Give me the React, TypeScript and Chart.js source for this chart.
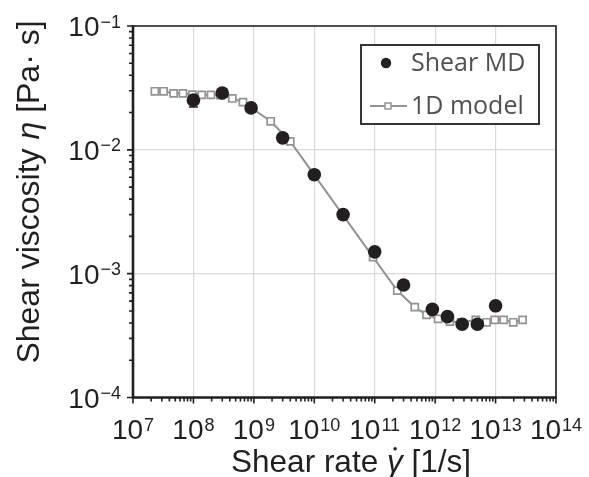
import React, { useEffect, useRef } from "react";
import { Chart, registerables } from "chart.js";

Chart.register(...registerables);

// ---- data ----
const mdRate = [1e8, 3e8, 9e8, 3e9, 1e10, 3e10, 1e11, 3e11, 9e11, 1.6e12, 2.8e12, 5e12, 1e13];
const mdVisc = [0.0252, 0.0288, 0.0218, 0.0125, 0.0063, 0.0030, 0.0015, 8.1e-4, 5.15e-4, 4.5e-4, 3.9e-4, 3.9e-4, 5.5e-4];
const mdErr = [0.003, 0, 0, 0, 0, 0, 0, 0, 0, 0, 0, 0, 0];

const modelRate = [2.3e7, 3.2e7, 4.7e7, 6.7e7, 9.6e7, 1.37e8, 1.95e8, 2.8e8, 4.4e8, 6.6e8, 1.9e9, 4e9, 9.4e10, 2.36e11, 4.6e11, 7.2e11, 1.12e12, 1.75e12, 2.7e12, 4.7e12, 7.1e12, 9.7e12, 1.36e13, 1.96e13, 2.8e13];
const modelVisc = [0.0297, 0.0297, 0.0286, 0.0286, 0.0279, 0.0278, 0.0278, 0.0277, 0.026, 0.0243, 0.017, 0.0117, 1.36e-3, 7.3e-4, 5.37e-4, 4.65e-4, 4.31e-4, 4.1e-4, 4.05e-4, 4.23e-4, 4.05e-4, 4.23e-4, 4.23e-4, 4.05e-4, 4.23e-4];

const xTickValues = [1e7, 1e8, 1e9, 1e10, 1e11, 1e12, 1e13, 1e14];
const xExponents = ["7", "8", "9", "10", "11", "12", "13", "14"];
const yTickValues = [1e-4, 1e-3, 1e-2, 1e-1];
const yExponents = ["\u22124", "\u22123", "\u22122", "\u22121"];

const seriesNames = ["Shear MD", "1D model"];
// middle part is the italic symbol; a dot is added above gamma
const xTitleParts = ["Shear rate ", "\u03B3", " [1/s]"];
const yTitleParts = ["Shear viscosity ", "\u03B7", " [Pa\u00B7 s]"];

// ---- style ----
const INK = "#231f20";
const MODEL = "#939393";
const SANS = '"Liberation Sans", Arial, sans-serif';
const BASE = 28;
const EXP = 18;

function drawPow(ctx: CanvasRenderingContext2D, exp: string, x: number, baseY: number, align: "center" | "right") {
  ctx.font = `${BASE}px ${SANS}`;
  const wb = ctx.measureText("10").width;
  ctx.font = `${EXP}px ${SANS}`;
  const we = ctx.measureText(exp).width;
  const total = wb + we + 1;
  const left = align === "center" ? x - total / 2 : x - total;
  ctx.textAlign = "left";
  ctx.textBaseline = "alphabetic";
  ctx.font = `${BASE}px ${SANS}`;
  ctx.fillText("10", left, baseY);
  ctx.font = `${EXP}px ${SANS}`;
  ctx.fillText(exp, left + wb + 1, baseY - 8.5);
}

function drawParts(ctx: CanvasRenderingContext2D, parts: string[], cx: number, baseY: number, size: number, dotted: boolean) {
  const fonts = parts.map((_, i) => (i === 1 ? `italic ${size}px ${SANS}` : `${size}px ${SANS}`));
  const widths = parts.map((p, i) => {
    ctx.font = fonts[i];
    return ctx.measureText(p).width;
  });
  const total = widths.reduce((a, b) => a + b, 0);
  let x = cx - total / 2;
  ctx.textAlign = "left";
  ctx.textBaseline = "alphabetic";
  parts.forEach((p, i) => {
    ctx.font = fonts[i];
    ctx.fillText(p, x, baseY);
    if (i === 1 && dotted) {
      ctx.beginPath();
      ctx.arc(x + widths[i] * 0.52, baseY - size * 0.74, size * 0.055, 0, Math.PI * 2);
      ctx.fill();
    }
    x += widths[i];
  });
}

const decorPlugin = {
  id: "decor",
  beforeDatasetsDraw(chart: any) {
    const ctx = chart.ctx as CanvasRenderingContext2D;
    const xs = chart.scales.x;
    const ys = chart.scales.y;
    ctx.save();
    ctx.strokeStyle = INK;
    ctx.lineWidth = 1.5;
    mdRate.forEach((r, i) => {
      const e = mdErr[i];
      if (!e) return;
      const px = xs.getPixelForValue(r);
      const top = ys.getPixelForValue(mdVisc[i] + e);
      const bot = ys.getPixelForValue(mdVisc[i] - e);
      ctx.beginPath();
      ctx.moveTo(px, top);
      ctx.lineTo(px, bot);
      ctx.moveTo(px - 4.5, top);
      ctx.lineTo(px + 4.5, top);
      ctx.moveTo(px - 4.5, bot);
      ctx.lineTo(px + 4.5, bot);
      ctx.stroke();
    });
    ctx.restore();
  },
  afterDraw(chart: any) {
    const ctx = chart.ctx as CanvasRenderingContext2D;
    const { left, right, top, bottom } = chart.chartArea;
    const xs = chart.scales.x;
    const ys = chart.scales.y;
    ctx.save();
    // frame
    ctx.strokeStyle = INK;
    ctx.lineWidth = 1.6;
    ctx.beginPath();
    ctx.moveTo(left, top);
    ctx.lineTo(right, top);
    ctx.lineTo(right, bottom);
    ctx.stroke();
    ctx.lineWidth = 2.6;
    ctx.beginPath();
    ctx.moveTo(left, top - 1);
    ctx.lineTo(left, bottom);
    ctx.lineTo(right + 0.8, bottom);
    ctx.stroke();

    // ticks
    ctx.lineWidth = 1.6;
    ctx.beginPath();
    for (let d = 0; d < xTickValues.length; d++) {
      const dec = xTickValues[d];
      const px = xs.getPixelForValue(dec);
      ctx.moveTo(px, bottom);
      ctx.lineTo(px, bottom + 6);
      if (d < xTickValues.length - 1) {
        for (let m = 2; m <= 9; m++) {
          const mx = xs.getPixelForValue(dec * m);
          ctx.moveTo(mx, bottom);
          ctx.lineTo(mx, bottom + 4);
        }
      }
    }
    for (let d = 0; d < yTickValues.length; d++) {
      const dec = yTickValues[d];
      const py = ys.getPixelForValue(dec);
      ctx.moveTo(left - 6, py);
      ctx.lineTo(left, py);
      if (d < yTickValues.length - 1) {
        for (let m = 2; m <= 9; m++) {
          const my = ys.getPixelForValue(dec * m);
          ctx.moveTo(left - 4, my);
          ctx.lineTo(left, my);
        }
      }
    }
    ctx.stroke();

    // tick labels
    ctx.fillStyle = INK;
    xTickValues.forEach((v, i) => {
      drawPow(ctx, xExponents[i], xs.getPixelForValue(v), 439, "center");
    });
    yTickValues.forEach((v, i) => {
      drawPow(ctx, yExponents[i], 121, ys.getPixelForValue(v) + 10, "right");
    });

    // axis titles
    drawParts(ctx, xTitleParts, 351, 472, 31.5, true);
    ctx.save();
    ctx.translate(39, 192);
    ctx.rotate(-Math.PI / 2);
    drawParts(ctx, yTitleParts, 0, 0, 32, false);
    ctx.restore();

    // legend
    const lx = 361, ly = 45, lw = 178, lh = 79;
    ctx.fillStyle = "#ffffff";
    ctx.fillRect(lx, ly, lw, lh);
    ctx.strokeStyle = INK;
    ctx.lineWidth = 1.8;
    ctx.strokeRect(lx, ly, lw, lh);
    ctx.fillStyle = INK;
    ctx.beginPath();
    ctx.arc(386, 63, 5.2, 0, Math.PI * 2);
    ctx.fill();
    ctx.strokeStyle = MODEL;
    ctx.lineWidth = 2;
    ctx.beginPath();
    ctx.moveTo(370, 106);
    ctx.lineTo(407, 106);
    ctx.stroke();
    ctx.fillStyle = "#ffffff";
    ctx.fillRect(385, 103, 6, 6);
    ctx.lineWidth = 1.5;
    ctx.strokeRect(385, 103, 6, 6);
    ctx.fillStyle = "#505050";
    ctx.font = `25px "Open Sans", sans-serif`;
    ctx.textAlign = "left";
    ctx.textBaseline = "middle";
    ctx.fillText(seriesNames[0], 411, 64);
    ctx.fillText(seriesNames[1], 411, 107);
    ctx.restore();
  },
};

export default function App() {
  const ref = useRef<HTMLCanvasElement | null>(null);
  useEffect(() => {
    if (!ref.current) return;
    const chart = new Chart(ref.current, {
      type: "scatter",
      data: {
        datasets: [
          {
            label: seriesNames[0],
            data: mdRate.map((x, i) => ({ x, y: mdVisc[i] })),
            showLine: false,
            pointRadius: 6.8,
            pointBorderWidth: 0,
            backgroundColor: INK,
            borderColor: INK,
          },
          {
            label: seriesNames[1],
            data: modelRate.map((x, i) => ({ x, y: modelVisc[i] })),
            showLine: true,
            borderColor: MODEL,
            borderWidth: 2,
            pointStyle: "rect",
            pointRadius: 5,
            pointBackgroundColor: "#ffffff",
            pointBorderColor: MODEL,
            pointBorderWidth: 1.7,
          },
        ],
      },
      options: {
        responsive: false,
        animation: false,
        layout: { padding: { left: 133, right: 33, top: 26, bottom: 79.5 } },
        plugins: { legend: { display: false }, tooltip: { enabled: false } },
        scales: {
          x: {
            type: "logarithmic",
            min: 1e7,
            max: 1e14,
            afterBuildTicks: (s: any) => {
              s.ticks = xTickValues.map((value) => ({ value }));
            },
            ticks: { display: false },
            grid: { color: "#d9d9d9", lineWidth: 1.2, drawTicks: false },
            border: { display: false },
          },
          y: {
            type: "logarithmic",
            min: 1e-4,
            max: 1e-1,
            afterBuildTicks: (s: any) => {
              s.ticks = yTickValues.map((value) => ({ value }));
            },
            ticks: { display: false },
            grid: { color: "#d9d9d9", lineWidth: 1.2, drawTicks: false },
            border: { display: false },
          },
        },
      },
      plugins: [decorPlugin],
    });
    return () => chart.destroy();
  }, []);
  return (
    <div style={{ position: "fixed", left: 0, top: 0, width: 589, height: 477, background: "#fff" }}>
      <canvas ref={ref} width={589} height={477} style={{ display: "block" }} />
    </div>
  );
}
